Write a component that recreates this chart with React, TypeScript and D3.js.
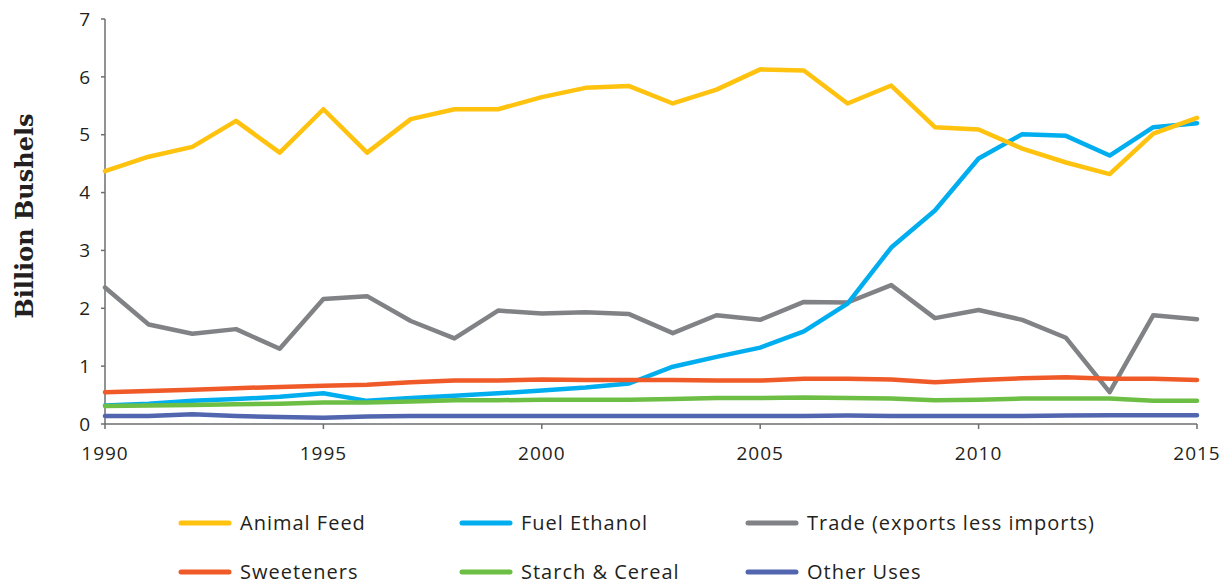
import React from "react";
import * as d3 from "d3";

const years = [1990,1991,1992,1993,1994,1995,1996,1997,1998,1999,2000,2001,2002,2003,2004,2005,2006,2007,2008,2009,2010,2011,2012,2013,2014,2015];
const animalFeed = [4.37,4.62,4.79,5.24,4.69,5.44,4.69,5.27,5.44,5.44,5.65,5.81,5.84,5.54,5.78,6.13,6.11,5.54,5.85,5.13,5.09,4.76,4.52,4.32,5.02,5.29];
const fuelEthanol = [0.32,0.35,0.40,0.43,0.47,0.53,0.40,0.45,0.49,0.53,0.58,0.63,0.70,0.99,1.16,1.32,1.60,2.08,3.05,3.69,4.59,5.01,4.98,4.64,5.13,5.20];
const trade = [2.36,1.72,1.56,1.64,1.30,2.16,2.21,1.78,1.48,1.96,1.91,1.93,1.90,1.57,1.88,1.80,2.11,2.10,2.40,1.83,1.97,1.80,1.49,0.55,1.88,1.81];
const sweeteners = [0.55,0.57,0.59,0.62,0.64,0.66,0.68,0.72,0.75,0.75,0.77,0.76,0.76,0.76,0.75,0.75,0.78,0.78,0.77,0.72,0.76,0.79,0.81,0.78,0.78,0.76];
const starchCereal = [0.31,0.32,0.33,0.34,0.35,0.37,0.37,0.39,0.41,0.41,0.42,0.42,0.42,0.43,0.45,0.45,0.46,0.45,0.44,0.41,0.42,0.44,0.44,0.44,0.40,0.40];
const otherUses = [0.14,0.14,0.17,0.14,0.12,0.11,0.13,0.14,0.14,0.14,0.14,0.14,0.14,0.14,0.14,0.14,0.14,0.145,0.14,0.14,0.14,0.14,0.145,0.15,0.15,0.15];

const yTicks = [0,1,2,3,4,5,6,7];
const xTicks = [1990,1995,2000,2005,2010,2015];

const seriesNames = ["Animal Feed","Fuel Ethanol","Trade (exports less imports)","Sweeteners","Starch & Cereal","Other Uses"];
const seriesColors = ["#FFC20E","#00AEEF","#808285","#F05A28","#6DBE45","#5166AE"];
const seriesValues = [animalFeed, fuelEthanol, trade, sweeteners, starchCereal, otherUses];
const drawOrder = [2,1,0,3,4,5];

const W = 1227, H = 584;
const left = 105, right = 1197, top = 19, bottom = 424;

export default function App() {
  const x = d3.scaleLinear().domain([1990, 2015]).range([left, right]);
  const y = d3.scaleLinear().domain([0, 7]).range([bottom, top]);
  const line = d3.line<number>().x((_, i) => x(years[i])).y((d) => y(d));
  const font = "'Open Sans', sans-serif";
  const axisColor = "#6d6e71";
  const textColor = "#231f20";

  const legendCols = [181, 462, 748];
  const legendRows = [523, 572];

  return (
    <svg width={W} height={H} style={{ position: "absolute", left: 0, top: 0, background: "#fff" }}>
      {/* axes */}
      <line x1={left} x2={left} y1={top} y2={bottom} stroke={axisColor} strokeWidth={1.5} />
      <line x1={left} x2={right} y1={bottom} y2={bottom} stroke={axisColor} strokeWidth={1.5} />
      {yTicks.map((t) => (
        <g key={"y" + t}>
          <line x1={left - 4} x2={left} y1={y(t)} y2={y(t)} stroke={axisColor} strokeWidth={1.5} />
          <text x={90} y={y(t)} dy="0.35em" textAnchor="end" fontFamily={font} fontSize={19} fill={textColor}>{t}</text>
        </g>
      ))}
      {xTicks.map((t) => (
        <g key={"x" + t}>
          <line x1={x(t)} x2={x(t)} y1={bottom} y2={bottom + 5} stroke={axisColor} strokeWidth={1.5} />
          <text x={x(t)} y={453} dy="0.35em" textAnchor="middle" fontFamily={font} fontSize={19} letterSpacing={1} fill={textColor}>{t}</text>
        </g>
      ))}
      <text transform={`translate(33,216) rotate(-90)`} textAnchor="middle" fontFamily="'DejaVu Serif', serif" fontWeight="bold" fontSize={24} fill={textColor}>Billion Bushels</text>

      {/* lines */}
      {drawOrder.map((i) => (
        <path key={seriesNames[i]} d={line(seriesValues[i]) || ""} fill="none" stroke={seriesColors[i]} strokeWidth={4.5} strokeLinejoin="round" strokeLinecap="round" />
      ))}

      {/* legend */}
      {seriesNames.map((name, i) => {
        const cx = legendCols[i % 3];
        const cy = legendRows[Math.floor(i / 3)];
        return (
          <g key={"lg" + name}>
            <line x1={cx} x2={cx + 48} y1={cy} y2={cy} stroke={seriesColors[i]} strokeWidth={5} strokeLinecap="round" />
            <text x={cx + 59} y={cy} dy="0.36em" fontFamily={font} fontSize={20} letterSpacing={1} fill={textColor}>{name}</text>
          </g>
        );
      })}
    </svg>
  );
}
